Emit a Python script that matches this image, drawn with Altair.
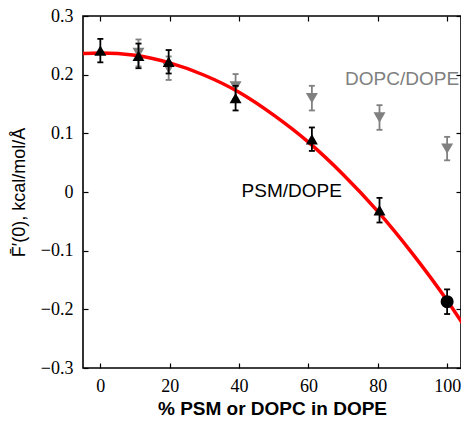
import altair as alt
import pandas as pd

# PSM/DOPE (black, triangles up), last point (100 %) drawn as a circle
psm_x = [0, 11, 19.7, 39, 61, 80.5]
psm_y = [0.241, 0.232, 0.222, 0.160, 0.090, -0.031]
psm_err = [0.020, 0.021, 0.020, 0.021, 0.020, 0.021]

end_x = [100]
end_y = [-0.187]
end_err = [0.021]

# DOPC/DOPE (gray, triangles down)
dopc_x = [11, 19.7, 39, 61, 80.5, 100]
dopc_y = [0.237, 0.211, 0.180, 0.160, 0.127, 0.074]
dopc_err = [0.023, 0.020, 0.021, 0.021, 0.021, 0.020]

# red fit curve
curve_x = [-5, 0, 10, 20, 30, 40, 50, 60, 70, 80, 90, 100, 105]
curve_y = [0.236, 0.237, 0.233, 0.220, 0.199, 0.170, 0.131, 0.085, 0.030,
           -0.033, -0.105, -0.185, -0.229]

# annotations
label_text = ["DOPC/DOPE", "PSM/DOPE"]
label_x = [87.0, 55.2]
label_y = [0.193, 0.001]
label_color = ["#808080", "#000000"]

x_ticks = [0, 20, 40, 60, 80, 100]
y_ticks = [-0.3, -0.2, -0.1, 0.0, 0.1, 0.2, 0.3]


def frame(xs, ys, errs):
    return pd.DataFrame({
        "x": xs, "y": ys,
        "lo": [a - b for a, b in zip(ys, errs)],
        "hi": [a + b for a, b in zip(ys, errs)],
    })


psm = frame(psm_x, psm_y, psm_err)
end = frame(end_x, end_y, end_err)
dopc = frame(dopc_x, dopc_y, dopc_err)
curve = pd.DataFrame({"x": curve_x, "y": curve_y})
labels = pd.DataFrame({"t": label_text, "x": label_x, "y": label_y, "c": label_color})

XS = alt.Scale(domain=[-5, 104], nice=False, zero=False)
YS = alt.Scale(domain=[-0.3, 0.3], nice=False, zero=False)

SERIF = "Liberation Serif"
SANS = "Liberation Sans"


def X(field="x", axis=None):
    return alt.X(f"{field}:Q", scale=XS, axis=axis)


def Y(field="y", axis=None):
    return alt.Y(f"{field}:Q", scale=YS, axis=axis)


def errbars(df, color):
    base = alt.Chart(df)
    rule = base.mark_rule(color=color, strokeWidth=1.8).encode(
        x=X(), y=Y("lo"), y2="hi")
    lo = base.mark_tick(orient="horizontal", color=color, size=6, thickness=1.8,
                        opacity=1).encode(x=X(), y=Y("lo"))
    hi = base.mark_tick(orient="horizontal", color=color, size=6, thickness=1.8,
                        opacity=1).encode(x=X(), y=Y("hi"))
    return [rule, lo, hi]


left_axis = alt.Axis(
    orient="left", offset=-5, domain=False, grid=False, values=y_ticks,
    tickSize=5, tickColor="black", tickWidth=1.2,
    labelFont=SERIF, labelFontSize=18, labelColor="black", labelPadding=10,
    labelExpr="abs(datum.value) < 1e-9 ? '0' : format(datum.value, '.1f')",
    title="F\u0304\u2032(0), kcal/mol/\u00c5", titleFont=SANS, titleFontSize=18,
    titleFontWeight="normal", titleColor="black", titlePadding=12,
)
bottom_axis = alt.Axis(
    orient="bottom", offset=-5, domain=False, grid=False, values=x_ticks,
    tickSize=5, tickColor="black", tickWidth=1.2,
    labelFont=SERIF, labelFontSize=18, labelColor="black", labelPadding=9,
    labelFlush=False,
    title="% PSM or DOPC in DOPE", titleFont=SANS, titleFontSize=19,
    titleFontWeight="bold", titleColor="black", titlePadding=4,
)
top_axis = alt.Axis(
    orient="top", offset=-5, domain=False, grid=False, values=x_ticks,
    tickSize=5, tickColor="black", tickWidth=1.2, labels=False, title=None,
)
right_axis = alt.Axis(
    orient="right", offset=-5, domain=False, grid=False, values=y_ticks,
    tickSize=5, tickColor="black", tickWidth=1.2, labels=False, title=None,
)

axes_main = alt.Chart(psm).mark_point(opacity=0).encode(
    x=X(axis=bottom_axis), y=Y(axis=left_axis))
axes_mirror = alt.Chart(psm).mark_point(opacity=0).encode(
    x=X(axis=top_axis), y=Y(axis=right_axis))

gray = "#808080"
dopc_pts = alt.Chart(dopc).mark_point(
    shape="triangle-down", filled=True, size=144, color=gray, opacity=1
).encode(x=X(), y=Y())

fit = alt.Chart(curve).mark_line(
    color="#ff0000", strokeWidth=3.5, clip=True, interpolate="monotone"
).encode(x=X(), y=Y())

psm_pts = alt.Chart(psm).mark_point(
    shape="triangle-up", filled=True, size=144, color="black", opacity=1
).encode(x=X(), y=Y())
end_pts = alt.Chart(end).mark_point(
    shape="circle", filled=True, size=170, color="black", opacity=1
).encode(x=X(), y=Y())

texts = alt.Chart(labels).mark_text(
    font=SANS, fontSize=19, align="center", baseline="middle"
).encode(x=X(), y=Y(), text="t:N",
         color=alt.Color("c:N", scale=None))

layers = [axes_main, axes_mirror] + errbars(dopc, gray) + [dopc_pts, fit] \
    + errbars(psm, "black") + errbars(end, "black") + [psm_pts, end_pts, texts]

chart = alt.layer(*layers).resolve_scale(
    x="independent", y="independent"
).properties(
    width=378, height=352,
    autosize=alt.AutoSizeParams(type="none"),
    padding={"left": 75, "top": 8, "right": 0, "bottom": 50},
    background="white",
).configure_view(
    stroke="black", strokeWidth=1.6
)

chart.save("out.html", embed_options={"renderer": "svg", "actions": False})
